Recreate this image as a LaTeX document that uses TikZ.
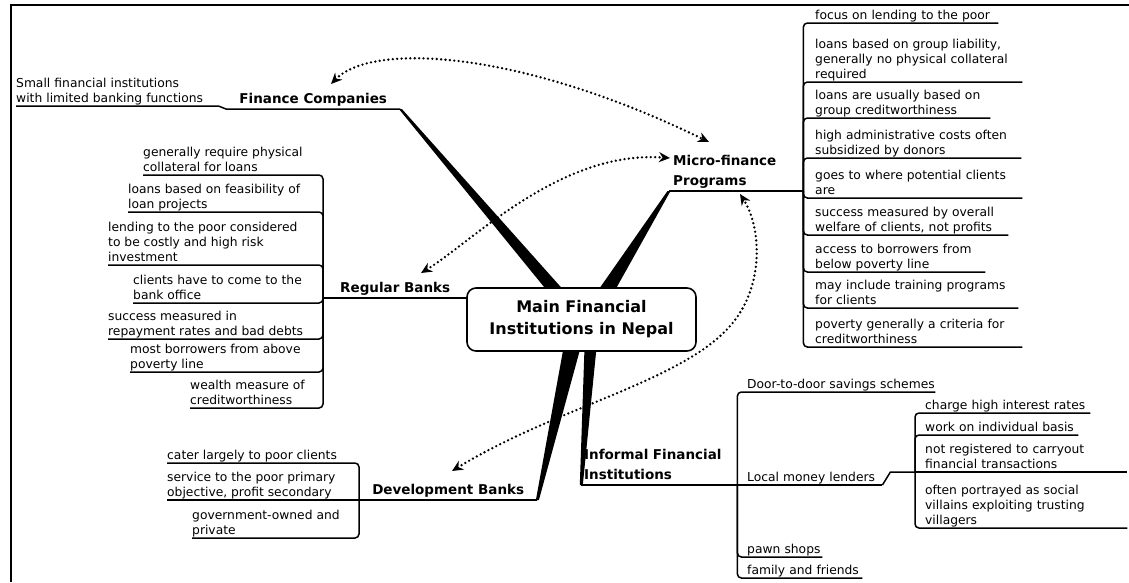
\documentclass[tikz,border=0pt]{standalone}
\usepackage{fontspec}
\setmainfont{DejaVu Sans}
\usetikzlibrary{arrows.meta,calc,backgrounds}
\newcommand\ust{\rule[-3.5pt]{0pt}{3.5pt}}
\newcommand\tst{\rule[-5.5pt]{0pt}{5.5pt}}
\tikzset{
  kid/.style={font=\fontsize{12.3}{14.8}\selectfont, align=left, inner xsep=0pt, inner ysep=0pt, anchor=south west, execute at end node=\ust},
  ttl/.style={font=\bfseries\fontsize{13.5}{19.5}\selectfont, inner xsep=0pt, inner ysep=0pt, anchor=south west, execute at end node=\tst},
  conn/.style={line width=1.5pt, rounded corners=4pt},
  plain/.style={line width=1.5pt},
  dots/.style={line width=2.6pt, dash pattern=on 0pt off 4.4pt, line cap=round,
    {Stealth[length=11pt,width=10pt]}-{Stealth[length=11pt,width=10pt]}},
  mainbox/.style={draw, line width=1.6pt, rounded corners=9pt, fill=white,
    minimum width=229pt, minimum height=63pt, align=center, inner sep=0pt,
    font=\bfseries\fontsize{16}{22}\selectfont}
}
\begin{document}
\begin{tikzpicture}[x=1pt,y=-1pt]
\useasboundingbox (0,0) rectangle (1129,582);
\draw[line width=1.8pt] (11,582) -- (11,5) -- (1129,5);

% central node
\node[mainbox] (main) at (581.5,319.5) {Main Financial\\Institutions in Nepal};

% main branches
\node[ttl, minimum width=174pt] (fc) at (226,109) {Finance Companies};
\node[ttl, text width=130pt, align=left] (mf) at (673,191) {Micro-finance\\Programs};
\node[ttl, minimum width=144pt] (rb) at (323,298) {Regular Banks};
\node[ttl, minimum width=178pt] (db) at (359,500) {Development Banks};
\node[ttl, text width=153pt, align=left] (inf) at (584,485) {Informal Financial\\Institutions};
\coordinate (mft) at ($(mf.south west)+(-4,0)$);
\coordinate (inft) at ($(inf.south west)+(-3,0)$);

% finance companies note
\node[kid, text width=202pt] (fsn) at (16,106) {Small financial institutions\\with limited banking functions};

% micro-finance children
\node[kid, text width=183pt] (m1) at (815,23) {focus on lending to the poor};
\node[kid, text width=207pt] (m2) at (815,82) {loans based on group liability,\\generally no physical collateral\\required};
\node[kid, text width=175pt] (m3) at (815,118) {loans are usually based on\\group creditworthiness};
\node[kid, text width=206pt] (m4) at (815,158) {high administrative costs often\\subsidized by donors};
\node[kid, text width=207pt] (m5) at (815,198) {goes to where potential clients\\are};
\node[kid, text width=193pt] (m6) at (815,235) {success measured by overall\\welfare of clients, not profits};
\node[kid, text width=170pt] (m7) at (815,272) {access to borrowers from\\below poverty line};
\node[kid, text width=203pt] (m8) at (815,308) {may include training programs\\for clients};
\node[kid, text width=207pt] (m9) at (815,347) {poverty generally a criteria for\\creditworthiness};

% regular banks children
\node[kid] (r1) at (143,175) {generally require physical\\collateral for loans};
\node[kid] (r2) at (128,212) {loans based on feasibility of\\loan projects};
\node[kid] (r3) at (108,265) {lending to the poor considered\\to be costly and high risk\\investment};
\node[kid] (r4) at (133,303) {clients have to come to the\\bank office};
\node[kid] (r5) at (108,339) {success measured in\\repayment rates and bad debts};
\node[kid] (r6) at (130,372) {most borrowers from above\\poverty line};
\node[kid] (r7) at (190,408) {wealth measure of\\creditworthiness};

% development banks children
\node[kid] (d1) at (167,463) {cater largely to poor clients};
\node[kid] (d2) at (167,500) {service to the poor primary\\objective, profit secondary};
\node[kid] (d3) at (192,538) {government-owned and\\private};

% informal children
\node[kid, text width=188pt] (i1) at (747,392) {Door-to-door savings schemes};
\node[kid, text width=135pt] (lml) at (747,485) {Local money lenders};
\node[kid, text width=75pt] (i3) at (747,557) {pawn shops};
\node[kid, text width=115pt] (i4) at (747,578) {family and friends};
\coordinate (lj) at (915,472);

% local money lenders children
\node[kid, text width=165pt] (l1) at (925,413) {charge high interest rates};
\node[kid, text width=153pt] (l2) at (925,435) {work on individual basis};
\node[kid, text width=202pt] (l3) at (925,472) {not registered to carryout\\financial transactions};
\node[kid, text width=202pt] (l4) at (925,528) {often portrayed as social\\villains exploiting trusting\\villagers};

% tapered branches
\begin{scope}[on background layer]
\fill ($(fc.south east)+(-1.5,0)$) -- ($(fc.south east)+(1.5,0)$) -- ($(main.north)+(-17,4)$) -- ($(main.north)+(-34,4)$) -- cycle;
\fill ($(mft)+(-1.5,0)$) -- ($(mft)+(1.5,0)$) -- ($(main.north)+(33,4)$) -- ($(main.north)+(16,4)$) -- cycle;
\fill ($(db.south east)+(-1.5,0)$) -- ($(db.south east)+(1.5,0)$) -- ($(main.south)+(-1,-4)$) -- ($(main.south)+(-18,-4)$) -- cycle;
\fill ($(inft)+(-1.2,0)$) -- ($(inft)+(1.8,0)$) -- ($(main.south)+(15,-4)$) -- ($(main.south)+(3,-4)$) -- cycle;
\end{scope}

% underlines and connectors
\draw[plain] (fc.south east) -- (fc.south west) -- (fsn.south east) -- (fsn.south west);
\draw[plain] (mft) -- (mf.south east);
\foreach \n in {m1,m2,m3,m4,m5,m6,m7,m8,m9} \draw[conn] (mf.south east) |- (\n.south east);
\draw[plain] (main.west |- rb.south) -- (rb.south west);
\foreach \n in {r1,r2,r3,r4,r5,r6,r7} \draw[conn] (rb.south west) |- (\n.south west);
\draw[plain] (db.south east) -- (db.south west) -- (d2.south west);
\draw[conn] (db.south west) |- (d1.south west);
\draw[conn] (db.south west) |- (d3.south west);
\draw[plain] (inft) -- (inf.south east) -- (lml.south east);
\draw[conn] (inf.south east) |- (i1.south east);
\draw[conn] (inf.south east) |- (i3.south east);
\draw[conn] (inf.south east) |- (i4.south east);
\draw[plain] (lml.south east) -- ($(lml.south east)+(8,-13)$) -- (lj);
\draw[conn] (lj) |- (l1.south east);
\draw[conn] (lj) |- (l2.south east);
\draw[plain] (lj) -- (l3.south east);
\draw[conn] (lj) |- (l4.south east);

% dotted relations
\coordinate (a1s) at (331,84);
\coordinate (a1e) at (709,142);
\draw[dots] (a1s) .. controls (372,42) and (520,50) .. (a1e);
\coordinate (a2s) at (421,273);
\coordinate (a2e) at (670,158);
\draw[dots] (a2s) .. controls (472,242) and (560,150) .. (a2e);
\coordinate (a3s) at (452,471);
\coordinate (a3m) at (735,320);
\coordinate (a3e) at (740,194);
\draw[dots] (a3s) .. controls (560,405) and (690,380) .. (a3m) .. controls (765,280) and (760,225) .. (a3e);
\end{tikzpicture}
\end{document}
